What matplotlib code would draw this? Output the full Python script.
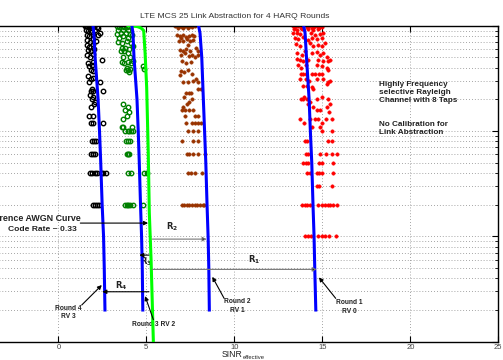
import numpy as np
import matplotlib
matplotlib.use("Agg")
import matplotlib.pyplot as plt
from matplotlib.ticker import LogLocator, NullFormatter

plt.rcParams['font.family'] = ['Liberation Sans', 'DejaVu Sans']

# ---- data (SINR_eff in dB, BLER) ----
curve_bler = [1.0, 0.85, 0.5, 0.2, 0.1, 0.05, 0.02, 0.01, 0.005, 0.002]
round1_curve = [13.94, 14.02, 14.10, 14.25, 14.32, 14.40, 14.47, 14.53, 14.57, 14.63]
round2_curve = [7.97, 8.05, 8.15, 8.24, 8.31, 8.38, 8.45, 8.51, 8.55, 8.58]
round3_curve = [4.18, 4.24, 4.30, 4.47, 4.54, 4.60, 4.67, 4.73, 4.77, 4.80]
round4_curve = [1.97, 2.02, 2.09, 2.26, 2.34, 2.41, 2.49, 2.57, 2.61, 2.65]

awgn_bler = [1.0, 0.995, 0.98, 0.95, 0.9, 0.55, 0.26, 0.062, 0.0167, 0.006, 0.001]
awgn_sinr = [3.96, 4.2, 4.5, 4.7, 4.85, 4.93, 5.02, 5.11, 5.17, 5.27, 5.40]

round4_pts = [
    (1.6, 1.0), (1.8, 1.0), (2.0, 1.0),
    (1.52, 0.99), (1.65, 0.99), (1.76, 0.98), (1.89, 0.99), (1.99, 0.98), (2.18, 0.98), (2.27, 0.96),
    (1.57, 0.91), (1.70, 0.90), (1.84, 0.88), (2.08, 0.91), (2.37, 0.86),
    (1.61, 0.82), (1.76, 0.80), (1.95, 0.83), (2.27, 0.82),
    (1.65, 0.73), (1.80, 0.70), (1.99, 0.74), (2.14, 0.72),
    (1.61, 0.66), (1.76, 0.63), (1.95, 0.67),
    (1.70, 0.59), (1.84, 0.57), (2.03, 0.60),
    (1.65, 0.53), (1.80, 0.51), (1.95, 0.54), (2.46, 0.47),
    (1.70, 0.44), (1.89, 0.42), (1.76, 0.41), (1.99, 0.45),
    (1.84, 0.38), (1.95, 0.37),
    (1.70, 0.33), (1.84, 0.31), (1.99, 0.32), (1.76, 0.29), (2.37, 0.29),
    (1.89, 0.25), (1.99, 0.24), (1.84, 0.24), (2.56, 0.24),
    (1.80, 0.22), (1.99, 0.21), (1.89, 0.20), (2.08, 0.19),
    (1.84, 0.17), (2.03, 0.18),
    (1.76, 0.14), (1.99, 0.14),
    (1.84, 0.12), (1.99, 0.12), (2.52, 0.12),
    (1.89, 0.08), (2.03, 0.08), (2.14, 0.08),
    (1.84, 0.06), (1.99, 0.06), (2.08, 0.06),
    (1.80, 0.04), (1.93, 0.04), (2.08, 0.04), (2.21, 0.04), (2.40, 0.04), (2.56, 0.04), (2.71, 0.04),
    (1.95, 0.02), (2.08, 0.02), (2.21, 0.02), (2.33, 0.02),
]

round3_pts = [
    (3.32, 0.99), (3.45, 0.98), (3.60, 0.99), (3.75, 0.97), (3.88, 0.98), (4.02, 0.99),
    (3.41, 0.92), (3.70, 0.91), (3.94, 0.92),
    (3.32, 0.83), (3.56, 0.85), (3.83, 0.86), (4.07, 0.83),
    (3.45, 0.77), (3.70, 0.79), (3.94, 0.76), (4.17, 0.81),
    (3.41, 0.70), (3.64, 0.68), (3.88, 0.71), (4.13, 0.69),
    (3.60, 0.61), (3.79, 0.62), (4.02, 0.60), (4.26, 0.64),
    (3.56, 0.58), (3.75, 0.57), (3.98, 0.55),
    (3.70, 0.50), (4.07, 0.50),
    (3.60, 0.45), (3.75, 0.44), (3.94, 0.45), (4.13, 0.44), (4.26, 0.46),
    (3.88, 0.40), (4.07, 0.39), (4.83, 0.41), (4.89, 0.39),
    (3.94, 0.38), (4.02, 0.36), (3.83, 0.38),
    (3.70, 0.18), (3.98, 0.17),
    (3.79, 0.16), (4.02, 0.15),
    (3.70, 0.13), (3.88, 0.14),
    (3.60, 0.11), (3.70, 0.11), (4.21, 0.11),
    (3.79, 0.10), (3.94, 0.10), (4.02, 0.10), (4.13, 0.10), (4.26, 0.10),
    (3.83, 0.08), (3.98, 0.08), (4.07, 0.08),
    (3.88, 0.06), (3.94, 0.06), (4.02, 0.06),
    (3.98, 0.04), (4.13, 0.04), (4.89, 0.04), (5.02, 0.04),
    (3.79, 0.02), (3.88, 0.02), (3.98, 0.02), (4.07, 0.02), (4.26, 0.02), (4.83, 0.02),
]

round2_pts = [
    (6.63, 0.99), (6.78, 0.98), (6.92, 0.99), (7.05, 0.98), (7.20, 0.99), (7.35, 0.98),
    (7.48, 0.99), (7.62, 0.98), (7.77, 0.99), (6.82, 0.95), (7.11, 0.95), (7.39, 0.95),
    (6.73, 0.82), (6.92, 0.79), (7.11, 0.82), (7.24, 0.78), (7.43, 0.80), (7.58, 0.82),
    (7.73, 0.79), (6.97, 0.76),
    (6.86, 0.72), (7.11, 0.72), (7.29, 0.74), (7.48, 0.72), (7.67, 0.73), (7.35, 0.66),
    (6.92, 0.59), (7.11, 0.57), (7.24, 0.60), (7.48, 0.58), (7.81, 0.61), (7.92, 0.57),
    (6.97, 0.53), (7.20, 0.55), (7.43, 0.52), (7.58, 0.53), (7.77, 0.51), (7.96, 0.53),
    (7.01, 0.46), (7.24, 0.44), (7.54, 0.45),
    (6.97, 0.37), (7.16, 0.36), (7.35, 0.38), (7.58, 0.35), (6.92, 0.34),
    (7.11, 0.29), (7.39, 0.29), (7.67, 0.30), (7.81, 0.31), (7.96, 0.29),
    (7.96, 0.25), (8.11, 0.25),
    (7.24, 0.23), (7.43, 0.23), (7.54, 0.23),
    (7.16, 0.21),
    (7.43, 0.19), (7.62, 0.20),
    (7.29, 0.18), (7.11, 0.17),
    (7.01, 0.16), (7.20, 0.16), (7.43, 0.16), (7.67, 0.16),
    (7.20, 0.14), (7.77, 0.14), (7.92, 0.14),
    (7.24, 0.12), (7.58, 0.12), (7.77, 0.12), (7.96, 0.12), (8.11, 0.12),
    (7.35, 0.10), (7.67, 0.10), (7.96, 0.10),
    (7.05, 0.08), (7.67, 0.08), (7.96, 0.08),
    (7.29, 0.06), (7.43, 0.06), (7.67, 0.06), (7.96, 0.06), (8.34, 0.06),
    (7.39, 0.04), (7.54, 0.04), (7.77, 0.04), (8.18, 0.04),
    (7.00, 0.02), (7.15, 0.02), (7.30, 0.02), (7.45, 0.02), (7.60, 0.02),
    (7.75, 0.02), (7.90, 0.02), (8.05, 0.02), (8.20, 0.02), (8.30, 0.02),
]

round1_pts = [
    (13.32, 0.99), (13.45, 0.98), (13.64, 0.99), (13.77, 0.96), (13.92, 0.99), (14.11, 0.98),
    (14.26, 0.99), (14.40, 0.96), (14.53, 0.98), (14.68, 0.99), (14.83, 0.96), (14.96, 0.98),
    (13.39, 0.93), (13.58, 0.91), (13.83, 0.93), (14.21, 0.93), (14.49, 0.91), (14.78, 0.93),
    (13.35, 0.85), (13.54, 0.86), (13.73, 0.83), (14.34, 0.85), (14.59, 0.82), (14.87, 0.83), (15.06, 0.86),
    (13.45, 0.76), (13.64, 0.74), (13.92, 0.78), (14.21, 0.73), (14.40, 0.76), (14.68, 0.74), (14.96, 0.76),
    (13.51, 0.67), (13.73, 0.64), (14.30, 0.68), (14.49, 0.64), (14.78, 0.66), (14.96, 0.64), (15.15, 0.68),
    (13.54, 0.55), (13.83, 0.53), (14.02, 0.57), (14.40, 0.55), (14.72, 0.56), (14.87, 0.53),
    (15.06, 0.55), (15.25, 0.51),
    (13.54, 0.48), (13.73, 0.47), (13.92, 0.46), (14.21, 0.47), (14.78, 0.47), (15.06, 0.46),
    (15.34, 0.46), (15.44, 0.47),
    (13.64, 0.42), (13.77, 0.40), (14.07, 0.42), (14.68, 0.42), (14.96, 0.41), (15.25, 0.40), (15.34, 0.38),
    (13.77, 0.35), (13.92, 0.35), (14.07, 0.35), (14.40, 0.35), (14.59, 0.35), (14.83, 0.35), (14.96, 0.35),
    (13.73, 0.31), (14.07, 0.31), (14.26, 0.30), (14.68, 0.31), (15.06, 0.31), (15.34, 0.29), (15.44, 0.30),
    (13.92, 0.27), (14.11, 0.27), (14.40, 0.26), (14.49, 0.25), (15.25, 0.28),
    (13.77, 0.20), (13.92, 0.20), (14.15, 0.20), (14.30, 0.19), (14.68, 0.20), (14.96, 0.21),
    (15.34, 0.20), (15.44, 0.18),
    (13.96, 0.21), (14.21, 0.18), (14.49, 0.17), (14.68, 0.16), (14.87, 0.16), (15.29, 0.17), (15.40, 0.15),
    (13.73, 0.13), (13.96, 0.12), (14.30, 0.13), (14.59, 0.13), (14.78, 0.13), (14.96, 0.12),
    (15.21, 0.13), (15.53, 0.13),
    (14.40, 0.11), (14.87, 0.11), (14.96, 0.10), (15.53, 0.10),
    (14.02, 0.08), (14.11, 0.08), (15.34, 0.08), (15.53, 0.08),
    (14.07, 0.06), (14.21, 0.06), (14.87, 0.06), (15.21, 0.06), (15.53, 0.06), (15.85, 0.06),
    (13.92, 0.05), (14.07, 0.05), (14.21, 0.05), (14.83, 0.05), (14.96, 0.05), (15.63, 0.05),
    (14.11, 0.04), (14.30, 0.04), (14.68, 0.04), (14.83, 0.04), (14.96, 0.04), (15.63, 0.04),
    (14.68, 0.03), (14.83, 0.03), (15.53, 0.03),
    (13.83, 0.02), (14.02, 0.02), (14.15, 0.02), (14.30, 0.02), (14.78, 0.02), (14.96, 0.02),
    (15.15, 0.02), (15.34, 0.02), (15.44, 0.02), (15.63, 0.02), (15.85, 0.02),
    (14.02, 0.01), (14.21, 0.01), (14.34, 0.01), (14.78, 0.01), (14.96, 0.01), (15.15, 0.01),
    (15.40, 0.01), (15.78, 0.01),
]

x_ticks = [0, 5, 10, 15, 20, 25]

# ---- figure (axes extends past the left edge like the cropped original) ----
fig = plt.figure(figsize=(5.03, 3.6), dpi=100)
ax = fig.add_axes([-0.059, 0.0508, 1.0497, 0.8778])
ax.set_yscale('log')
ax.set_xlim(-5, 25)
ax.set_ylim(1e-3, 1)

def unzip(pts):
    a = np.array(pts)
    return a[:, 0], a[:, 1]

# scatter of channel realisations
x4, y4 = unzip(round4_pts)
ax.plot(x4, y4, 'o', ls='none', ms=3.2, mfc='none', mec='k', mew=1.0)
x3, y3 = unzip(round3_pts)
ax.plot(x3, y3, 'o', ls='none', ms=3.2, mfc='none', mec=(0, 0.5, 0), mew=1.0)
x2, y2 = unzip(round2_pts)
ax.plot(x2, y2, 'o', ls='none', ms=2.5, mfc=(0.6, 0.2, 0), mec=(0.6, 0.2, 0), mew=0.3)
x1, y1 = unzip(round1_pts)
ax.plot(x1, y1, 'o', ls='none', ms=2.5, mfc='r', mec='r', mew=0.3)

# AWGN reference + shifted curves
ax.plot(awgn_sinr, awgn_bler, '-', color=(0, 1, 0), lw=2.2, zorder=4)
for c in [round1_curve, round2_curve, round3_curve, round4_curve]:
    ax.plot(c, curve_bler, '-', color=(0, 0, 1), lw=2.2, zorder=5)

# axes styling (matlab-like)
ax.set_xticks(x_ticks)
ax.yaxis.set_major_locator(LogLocator(base=10))
ax.yaxis.set_minor_locator(LogLocator(base=10, subs=np.arange(2, 10)))
ax.yaxis.set_minor_formatter(NullFormatter())
ax.tick_params(which='both', direction='in', top=True, right=True, labelsize=5.5,
               labelcolor='#444444', pad=1.5)
ax.tick_params(axis='y', labelleft=False)
ax.tick_params(which='major', length=4, width=0.8)
ax.tick_params(which='minor', length=2.2, width=0.6)
ax.grid(True, which='major', axis='both', ls=(0, (1, 2.5)), color='#888888', lw=0.6)
ax.grid(True, which='minor', axis='y', ls=(0, (1, 2.5)), color='#888888', lw=0.6)
for s in ax.spines.values():
    s.set_linewidth(1.0)

fig.text(235 / 503, 0.955, 'LTE MCS 25 Link Abstraction for 4 HARQ Rounds',
         ha='center', va='center', fontsize=6.1, color='#333333')
fig.text(222 / 503, 0.016, 'SINR', ha='left', va='center', fontsize=6.2, color='#222222')
fig.text(243 / 503, 0.0, 'effective', ha='left', va='bottom', fontsize=4.2, color='#222222')

bold = dict(fontweight='bold', color='#222222')

# text annotations
ax.text(18.2, 0.30, 'Highly Frequency\nselective Rayleigh\nChannel with 8 Taps',
        ha='left', va='top', fontsize=5.9, linespacing=1.2, **bold)
ax.text(18.2, 0.125, 'No Calibration for\nLink Abstraction',
        ha='left', va='top', fontsize=5.9, linespacing=1.2, **bold)
ax.text(1.25, 0.0149, 'Reference AWGN Curve', ha='right', va='center', fontsize=6.4, **bold)
ax.text(1.02, 0.0117, 'Code Rate ~ 0.33', ha='right', va='center', fontsize=6.1, **bold)

def arrow(x0, y0, x1, y1, line='k', head='k'):
    ax.annotate('', xy=(x1, y1), xytext=(x0, y0), zorder=6,
                arrowprops=dict(arrowstyle='-|>', ec=line, fc=head, lw=0.8,
                                mutation_scale=6, shrinkA=0, shrinkB=0))

arrow(1.25, 0.01337, 5.10, 0.01337)
arrow(5.34, 0.00942, 8.43, 0.00942, line='#777777')
arrow(5.15, 0.00664, 4.60, 0.00664)
arrow(5.34, 0.00486, 14.68, 0.00486, line='#777777')
arrow(5.15, 0.00298, 2.50, 0.00298)

ax.text(6.44, 0.0123, r'$\mathbf{R_2}$', ha='center', va='center', fontsize=6, color='#222222')
ax.text(4.96, 0.0057, r'$\mathbf{R_3}$', ha='center', va='center', fontsize=6, color='#222222')
ax.text(11.15, 0.0060, r'$\mathbf{R_1}$', ha='center', va='center', fontsize=6, color='#222222')
ax.text(3.55, 0.0034, r'$\mathbf{R_4}$', ha='center', va='center', fontsize=6, color='#222222')

# round labels with pointers
arrow(1.33, 0.00223, 2.47, 0.00345)
ax.text(0.57, 0.0019, 'Round 4\nRV 3', ha='center', va='center', fontsize=4.8,
        linespacing=1.3, **bold)
arrow(5.40, 0.00162, 4.93, 0.00271)
ax.text(5.40, 0.00147, 'Round 3 RV 2', ha='center', va='center', fontsize=4.8, **bold)
arrow(9.42, 0.00258, 8.75, 0.00413)
ax.text(10.17, 0.00218, 'Round 2\nRV 1', ha='center', va='center', fontsize=4.8,
        linespacing=1.3, **bold)
arrow(15.76, 0.00258, 14.81, 0.00408)
ax.text(16.52, 0.00213, 'Round 1\nRV 0', ha='center', va='center', fontsize=4.8,
        linespacing=1.3, **bold)

fig.savefig('out.png', dpi=100)
